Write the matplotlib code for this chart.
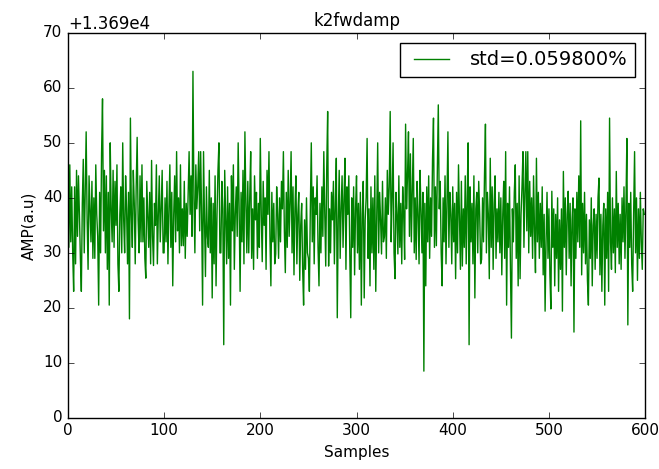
import numpy as np
import matplotlib
matplotlib.use("Agg")
import matplotlib.pyplot as plt
from matplotlib.ticker import ScalarFormatter

# offset shown on the y axis (+1.369e4)
base = 13690.0

# amplitude above the offset, one value per sample
amp_rel = [
    38, 31, 46, 32, 42, 30, 23, 42, 28, 45, 33, 44, 37, 29, 23, 39, 47, 30, 41, 52, 36, 27, 44, 38, 32,
    43, 29, 40, 29, 46, 37, 33, 20.5, 41, 30, 48, 58, 34, 45, 30, 44, 27, 41, 20.5, 50, 38, 32, 45, 31, 43,
    35, 46, 28, 23, 37, 42, 30, 50, 36, 30, 44, 38, 28, 41, 18, 54.5, 37, 31, 45, 39, 28, 42, 51, 36, 30,
    44, 32, 46, 32, 40, 29, 25.4, 43, 37, 31, 41, 28, 46.8, 33, 27.7, 39, 35, 46, 28, 37, 44, 32, 38, 45, 30,
    30, 40, 32, 43, 28, 38, 46, 31, 41, 24, 37, 44, 32, 48.4, 34, 40, 30, 46, 31.3, 38, 31.3, 43, 29, 39, 33,
    41, 48.4, 37, 44, 33, 63, 40, 30, 46, 38, 42, 48.4, 34, 48.4, 37, 20.5, 48.4, 36, 25.7, 42, 33, 31, 45, 30, 40,
    21.8, 39, 28, 44, 24, 37, 45, 50, 30, 30, 43, 38, 13.3, 45, 36, 28, 42, 29, 39, 20.5, 44, 34, 46, 27, 37,
    42, 33, 50, 38, 23, 41, 32, 45, 28, 52, 39, 30, 43, 30, 40, 48.4, 29, 38, 27, 44, 36, 41, 29, 39, 31,
    50.8, 37, 28.4, 43, 35, 40, 27, 45, 37, 48.4, 33, 24, 41, 32, 39, 28, 29.8, 42, 37, 29, 40, 32, 43, 38, 48.4,
    34, 26.4, 41, 31, 45, 33, 39, 48.4, 30, 42, 26, 38, 44, 28, 37, 41, 25, 35, 39, 27, 20.5, 36, 27, 40, 30,
    29, 23, 38, 50, 32, 42, 28, 40, 37, 44, 31, 24, 39, 30, 42, 33, 48.4, 37, 27.6, 45, 55.7, 27.6, 38, 30, 41,
    36, 43, 28, 39, 47.2, 18.2, 36, 45, 29, 38, 44, 31, 40, 47.2, 27, 42, 37, 44, 30, 18.2, 40, 31, 42, 26, 38,
    44, 30, 39, 27, 41, 20.5, 37, 43, 21.8, 36, 40, 50.8, 29, 38, 24, 42, 30, 40, 27, 44, 23, 37, 50, 30, 41,
    36, 29.8, 43, 32, 33, 40, 29, 45, 37, 42, 55.7, 32, 40, 50, 30, 25.3, 41, 37, 29.8, 44, 31, 39, 28, 42, 37,
    28.8, 53.4, 38, 44, 52, 33, 48, 32, 41, 50.8, 30, 40, 28.8, 43, 37, 28, 45, 38, 30, 41, 8.5, 39, 24, 42, 32,
    44, 29, 40, 33, 47, 54.5, 31, 42, 31.3, 45, 56.9, 38, 43, 30, 24, 40, 32, 44, 28, 39, 52, 31, 41, 37, 28,
    42, 32, 39, 25.3, 41, 30, 46, 37, 27, 43, 27.6, 38, 31, 44, 28, 40, 50, 13.3, 42, 32, 39, 28, 44, 21.8, 38,
    41, 30, 43, 37, 28, 28.8, 40, 32, 44, 53.4, 30, 41, 37, 25.3, 47.2, 31, 42, 27, 39, 44, 29, 38, 32, 41, 30,
    40, 26, 37, 43, 29, 48.4, 20.5, 39, 31, 42, 27, 14.5, 38, 32, 41, 46, 29, 39, 24, 44, 25.3, 37, 42, 48.4, 31,
    41, 48.4, 34, 48.4, 30, 43, 33, 40, 29, 44, 34, 26.4, 47.2, 32, 41, 29, 39, 31, 42, 26, 37, 19.4, 32, 41, 29,
    38, 26, 19.8, 41.2, 31, 38, 24, 37, 29, 40, 23, 36, 27, 38, 19.4, 44.8, 31, 40, 26, 37, 41.2, 29, 39, 24, 36,
    40, 15.6, 38, 29, 41, 32, 44, 31, 54, 26, 39, 30, 41, 28, 37, 25, 20.5, 36, 29, 40, 24, 35, 38, 27, 37,
    29, 40, 43.6, 26, 37, 23, 35, 39, 20.5, 38, 29, 41, 23, 54.5, 32, 27, 40, 30, 38, 26.4, 44.8, 31, 39, 28, 37,
    27, 40, 32, 42, 29, 38, 50.8, 16.9, 39, 31, 41, 28, 23, 37, 48.4, 30, 40, 25, 38, 29, 41, 32, 27, 38, 37,
]

amp = base + np.array(amp_rel)
samples = np.arange(len(amp))
std_pct = 0.059800

plt.style.use("classic")
fig = plt.figure(figsize=(6.59, 4.69), dpi=100, facecolor="white")
ax = fig.add_axes([0.103, 0.109, 0.876, 0.821])

ax.plot(samples, amp, color="green", linewidth=1.0, label="std=%f%%" % std_pct)

ax.set_xlim(0, 600)
ax.set_ylim(base, base + 70)
fmt = ScalarFormatter(useOffset=base)
ax.yaxis.set_major_formatter(fmt)

ax.set_title("k2fwdamp", fontsize=12)
ax.set_xlabel("Samples", fontsize=11)
ax.set_ylabel("AMP(a.u)", fontsize=11)
ax.tick_params(labelsize=11)
ax.legend(loc="upper right", fontsize=14, handlelength=2.4)

fig.savefig("out.png", dpi=100, facecolor="white")
